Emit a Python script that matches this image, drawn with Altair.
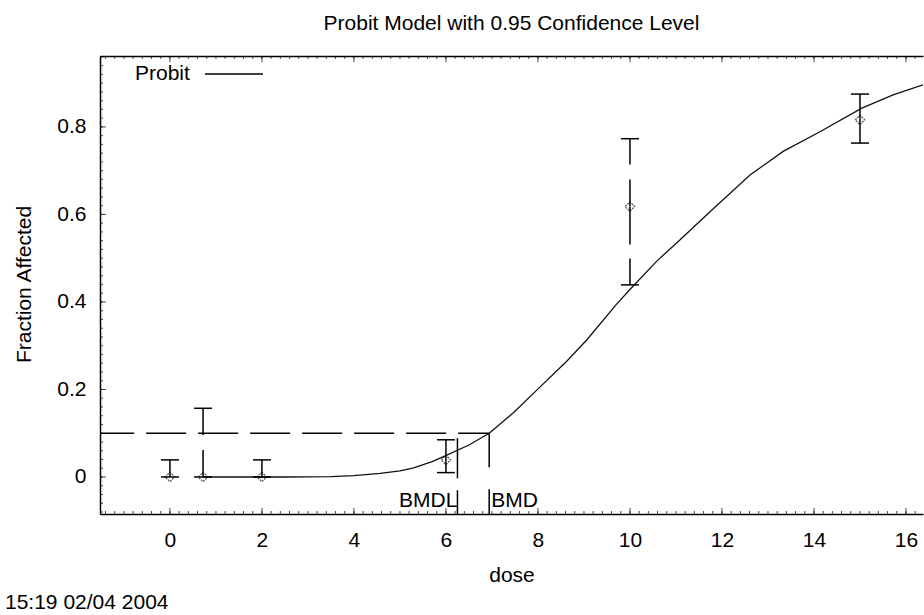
import altair as alt
import pandas as pd

# ---- observed data with 95% confidence limits ----
obs_dose = [0, 0.72, 2, 6.0, 10, 15]
obs_frac = [0, 0, 0, 0.039, 0.618, 0.816]
obs_low = [0, 0, 0, 0.010, 0.439, 0.763]
obs_up = [0.039, 0.157, 0.039, 0.085, 0.773, 0.875]

# ---- fitted probit curve ----
curve_dose = [0.72, 1.5, 2.5, 3.5, 4.0, 4.57, 5.0, 5.28, 5.7, 6.02, 6.5, 6.94,
              7.46, 7.98, 8.62, 9.06, 9.71, 10.04, 10.6, 11.09, 11.74, 12.61,
              13.33, 14.13, 15.04, 15.72, 16.37]
curve_frac = [0, 0, 0, 0.001, 0.003, 0.008, 0.014, 0.02, 0.035, 0.05, 0.073, 0.1,
              0.146, 0.199, 0.264, 0.313, 0.395, 0.433, 0.495, 0.542, 0.606, 0.69,
              0.744, 0.789, 0.843, 0.873, 0.896]

bmd = 6.94
bmdl = 6.25
bmr = 0.1

x_min, x_max = -1.52, 16.37
y_min, y_max = -0.0846, 0.962

x_major = [0, 2, 4, 6, 8, 10, 12, 14, 16]
x_minor = [round(-1.4 + 0.2 * i, 1) for i in range(89)]
y_major = [0, 0.2, 0.4, 0.6, 0.8]
y_minor = [round(-0.08 + 0.02 * i, 2) for i in range(53)]

W, H = 823, 458
FONT = "Liberation Sans"
FS = 21

xs = alt.Scale(domain=[x_min, x_max], nice=False, zero=False)
ys = alt.Scale(domain=[y_min, y_max], nice=False, zero=False)

obs = pd.DataFrame({"dose": obs_dose, "frac": obs_frac, "low": obs_low, "up": obs_up})
curve = pd.DataFrame({"dose": curve_dose, "frac": curve_frac})
one = pd.DataFrame({"a": [0]})

x_main = alt.X("dose:Q", scale=xs, axis=alt.Axis(
    values=x_major, ticks=False, domain=True, domainColor="black", domainWidth=1.5,
    labelFont=FONT, labelFontSize=FS, labelColor="black", labelPadding=15,
    grid=False, title="dose", titleFont=FONT, titleFontSize=FS, titleFontWeight="normal",
    titleColor="black", titleY=61, titleBaseline="middle"))
y_main = alt.Y("frac:Q", scale=ys, axis=alt.Axis(
    values=y_major, format="~g", ticks=False, domain=True, domainColor="black", domainWidth=1.5,
    labelFont=FONT, labelFontSize=FS, labelColor="black", labelPadding=14,
    grid=False, title="Fraction Affected", titleFont=FONT, titleFontSize=FS,
    titleFontWeight="normal", titleColor="black", titleX=-76, titleY=228,
    titleAlign="center", titleBaseline="middle", titleAngle=270))

curve_layer = alt.Chart(curve).mark_line(color="#111", strokeWidth=1.3, clip=True).encode(
    x=x_main, y=y_main)

def X(field):
    return alt.X(field, scale=xs, axis=None)

def Y(field):
    return alt.Y(field, scale=ys, axis=None)

# error bars: upper and lower halves drawn from the observed point outward
bar_up = alt.Chart(obs).mark_rule(color="black", strokeWidth=1.5, strokeDash=[27, 15]).encode(
    x=X("dose:Q"), y=Y("frac:Q"), y2="up:Q")
bar_low = alt.Chart(obs).mark_rule(color="black", strokeWidth=1.5, strokeDash=[38, 14]).encode(
    x=X("dose:Q"), y=Y("frac:Q"), y2="low:Q")
cap_up = alt.Chart(obs).mark_rule(color="black", strokeWidth=1.5, xOffset=-9, x2Offset=9).encode(
    x=X("dose:Q"), x2="dose:Q", y=Y("up:Q"))
cap_low = alt.Chart(obs).mark_rule(color="black", strokeWidth=1.5, xOffset=-9, x2Offset=9).encode(
    x=X("dose:Q"), x2="dose:Q", y=Y("low:Q"))
points = alt.Chart(obs).mark_point(shape="diamond", size=90, filled=False, color="black",
                                   strokeWidth=1.2, strokeDash=[2, 1]).encode(
    x=X("dose:Q"), y=Y("frac:Q"))

ref = pd.DataFrame({"bmd": [bmd], "bmdl": [bmdl], "bmr": [bmr], "xlo": [x_min], "ylo": [y_min],
                    "lab_y": [-0.055]})
hline = alt.Chart(ref).mark_rule(color="black", strokeWidth=1.5, strokeDash=[40, 12],
                                 strokeDashOffset=9).encode(
    x=X("bmd:Q"), x2="xlo:Q", y=Y("bmr:Q"))
vline_bmd = alt.Chart(ref).mark_rule(color="black", strokeWidth=1.5, strokeDash=[34, 22]).encode(
    x=X("bmd:Q"), y=Y("bmr:Q"), y2="ylo:Q")
vline_bmdl = alt.Chart(ref).mark_rule(color="black", strokeWidth=1.5, strokeDash=[40, 12],
                                      strokeDashOffset=-5).encode(
    x=X("bmdl:Q"), y=Y("bmr:Q"), y2="ylo:Q")
lab_bmdl = alt.Chart(ref).mark_text(text="BMDL", align="right", baseline="middle", dx=0,
                                    font=FONT, fontSize=FS, color="black").encode(
    x=X("bmdl:Q"), y=Y("lab_y:Q"))
lab_bmd = alt.Chart(ref).mark_text(text="BMD", align="left", baseline="middle", dx=2,
                                   font=FONT, fontSize=FS, color="black").encode(
    x=X("bmd:Q"), y=Y("lab_y:Q"))

# inner ticks of the frame
xmin_df = pd.DataFrame({"v": x_minor})
xmaj_df = pd.DataFrame({"v": x_major})
ymin_df = pd.DataFrame({"v": y_minor})
ymaj_df = pd.DataFrame({"v": y_major})

bt_min = alt.Chart(xmin_df).mark_tick(orient="vertical", size=3, thickness=1, color="black",
                                      yOffset=-1.5).encode(x=X("v:Q"), y=alt.value(H))
bt_maj = alt.Chart(xmaj_df).mark_tick(orient="vertical", size=6, thickness=1, color="black",
                                      yOffset=-3).encode(x=X("v:Q"), y=alt.value(H))
tt_min = alt.Chart(xmin_df).mark_tick(orient="vertical", size=3, thickness=1, color="black",
                                      yOffset=1.5).encode(
    x=alt.X("v:Q", scale=xs, axis=alt.Axis(orient="top", labels=False, ticks=False,
                                           domain=True, domainColor="black", domainWidth=1.5,
                                           grid=False, title=None)),
    y=alt.value(0))
tt_maj = alt.Chart(xmaj_df).mark_tick(orient="vertical", size=6, thickness=1, color="black",
                                      yOffset=3).encode(x=X("v:Q"), y=alt.value(0))
lt_min = alt.Chart(ymin_df).mark_tick(orient="horizontal", size=3, thickness=1, color="black",
                                      xOffset=1.5).encode(y=Y("v:Q"), x=alt.value(0))
lt_maj = alt.Chart(ymaj_df).mark_tick(orient="horizontal", size=6, thickness=1, color="black",
                                      xOffset=3).encode(y=Y("v:Q"), x=alt.value(0))

# legend and timestamp
leg_text = alt.Chart(one).mark_text(text="Probit", align="left", baseline="middle",
                                    font=FONT, fontSize=FS, color="black").encode(
    x=alt.value(35), y=alt.value(18))
leg_line = alt.Chart(one).mark_rule(color="black", strokeWidth=1.3).encode(
    x=alt.value(105), x2=alt.value(163), y=alt.value(18))
stamp = alt.Chart(one).mark_text(text="15:19 02/04 2004", align="left", baseline="middle",
                                 font=FONT, fontSize=FS, color="black").encode(
    x=alt.value(-95), y=alt.value(547))

chart = alt.layer(
    curve_layer, tt_min, hline, vline_bmd, vline_bmdl, bar_up, bar_low, cap_up, cap_low, points,
    lab_bmdl, lab_bmd, bt_min, bt_maj, tt_maj, lt_min, lt_maj, leg_text, leg_line, stamp
).resolve_axis(x="independent", y="independent").properties(
    width=W, height=H,
    title=alt.TitleParams("Probit Model with 0.95 Confidence Level", font=FONT, fontSize=FS,
                          fontWeight="normal", color="black", anchor="middle", offset=22),
    autosize=alt.AutoSizeParams(type="none"),
    padding={"left": 100, "top": 56, "right": 1, "bottom": 101},
    background="white",
).configure_view(strokeWidth=0)

chart.save("out.html", embed_options={"renderer": "svg", "actions": False})
